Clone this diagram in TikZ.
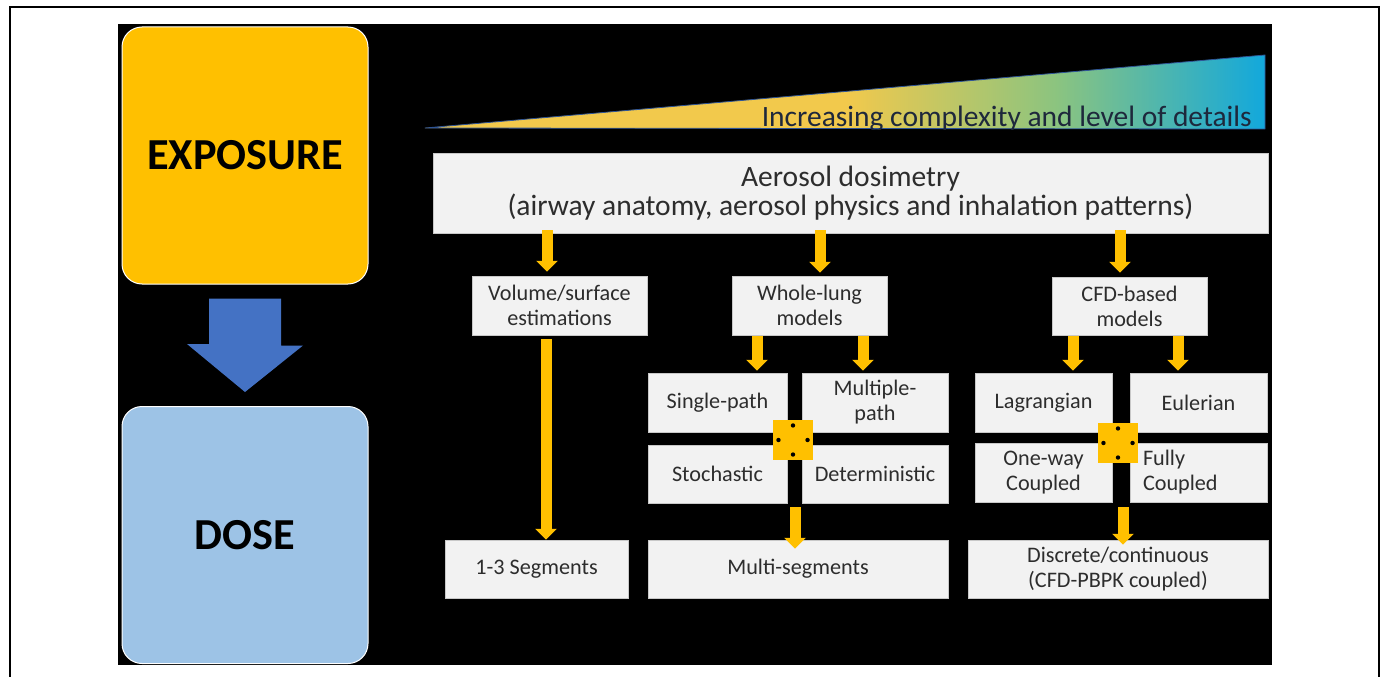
\documentclass[tikz,border=0pt]{standalone}
\usepackage{fontspec}
\setmainfont{Carlito}
\usetikzlibrary{arrows.meta,calc}
\definecolor{gold}{RGB}{255,192,0}
\definecolor{skyb}{RGB}{157,195,230}
\definecolor{blueA}{RGB}{68,114,196}
\definecolor{boxg}{RGB}{242,242,242}
\definecolor{boxline}{RGB}{200,200,200}
\definecolor{txt}{RGB}{45,45,45}
\definecolor{triY}{RGB}{242,201,76}
\definecolor{triG}{RGB}{140,196,127}
\definecolor{triB}{RGB}{18,168,220}
\definecolor{triE}{RGB}{47,85,151}
\definecolor{triT}{RGB}{30,40,60}
\pgfdeclarehorizontalshading{trishade}{100bp}{color(0bp)=(triY); color(25bp)=(triY); color(50bp)=(triY); color(62.5bp)=(triG); color(75bp)=(triB); color(100bp)=(triB)}
\begin{document}
\begin{tikzpicture}[x=1pt,y=-1pt,
  box/.style={fill=boxg, draw=boxline, line width=0.5pt, text=txt,
    font=\fontsize{22.2}{25}\selectfont, align=center, inner sep=0pt},
  yarr/.style={draw=gold, line width=11pt, -{Triangle[length=11pt,width=21pt]}},
  bigbox/.style={rounded corners=20pt, draw=white, line width=1pt,
    minimum width=246pt, minimum height=257pt, inner sep=0pt,
    font=\fontsize{44.3}{50}\selectfont\bfseries, text=black},
  junction/.style={fill=gold, minimum size=40pt, inner sep=0pt}
]
\useasboundingbox (0,0) rectangle (1385,677);
\fill[white] (0,0) rectangle (1385,677);
\draw[black, line width=1.5pt] (10,7) rectangle (1379,690);
\fill[black] (118,24) rectangle (1272,665);

% complexity wedge
\shade[shading=trishade] (425,128) -- (1265,55) -- (1265,129) -- cycle;
\draw[triE, line width=0.8pt, line join=round] (425,128) -- (1265,55) -- (1265,129) -- cycle;
\begin{scope}
\clip (425,40) rectangle (1272,129.5);
\node[anchor=base east, font=\fontsize{29.5}{34}\selectfont, text=triT, inner sep=0pt] (inc) at (1252,126) {Increasing complexity and level of details};
\end{scope}

% exposure / dose
\node[bigbox, fill=gold] (exp) at (245,155.5) {EXPOSURE};
\node[bigbox, fill=skyb] (dose) at (245,535) {DOSE};
\fill[blueA] ($(exp.south)+(-36,14)$) -- ++(72,0) -- ++(0,47) -- ++(22,0)
  -- ($(dose.north)+(0,-14)$) -- ++(-58,-48) -- ++(22,0) -- cycle;

% boxes
\node[box, minimum width=835pt, minimum height=80pt, font=\fontsize{29.5}{29}\selectfont] (aer) at (850.5,193)
  {Aerosol dosimetry\\(airway anatomy, aerosol physics and inhalation patterns)};
\node[box, minimum width=175pt, minimum height=59pt] (vol) at (559.5,305.5) {Volume/surface\\estimations};
\node[box, minimum width=155pt, minimum height=59pt] (whole) at (809.5,305.5) {Whole-lung\\models};
\node[box, minimum width=155pt, minimum height=58pt] (cfd) at (1129.5,306) {CFD-based\\models};

\node[box, minimum width=139pt, minimum height=59pt] (single) at (717.5,402.5) {Single-path};
\node[box, minimum width=146pt, minimum height=59pt] (multiple) at (875,402.5) {Multiple-\\path};
\node[box, minimum width=139pt, minimum height=58pt] (stoch) at (717.5,474) {Stochastic};
\node[box, minimum width=146pt, minimum height=58pt] (determ) at (875,474) {Deterministic};

\node[box, minimum width=137pt, minimum height=59pt] (lag) at (1043.5,402.5) {Lagrangian};
\node[box, minimum width=137pt, minimum height=59pt] (eul) at (1198.5,402.5) {Eulerian};
\node[box, minimum width=137pt, minimum height=59pt] (oneway) at (1043.5,472.5) {One-way\\Coupled};
\node[box, minimum height=59pt, align=left, text width=111pt, inner xsep=13pt] (fully) at (1198.5,472.5) {Fully\\Coupled};

\node[box, minimum width=183pt, minimum height=58pt] (seg) at (536.5,569) {1-3 Segments};
\node[box, minimum width=300pt, minimum height=58pt] (mseg) at (798,569) {Multi-segments};
\node[box, minimum width=300pt, minimum height=58pt] (disc) at (1118,569) {Discrete/continuous\\(CFD-PBPK coupled)};

% junction icons
\node[junction] (j1) at (793,440) {};
\node[junction] (j2) at (1118,443) {};
\foreach \j in {j1,j2}{
  \foreach \p in {north,south,east,west}{
    \fill[black] ($(\j.center)!0.72!(\j.\p)$) circle (2.2pt);
  }
}

% arrows
\draw[yarr, shorten <=-3pt, shorten >=4pt] (547,0 |- aer.south) -- (547,0 |- vol.north);
\draw[yarr, shorten <=-3pt, shorten >=3pt] (820,0 |- aer.south) -- (820,0 |- whole.north);
\draw[yarr, shorten <=-3pt, shorten >=4pt] (1120,0 |- aer.south) -- (1120,0 |- cfd.north);
\draw[yarr, shorten <=4pt] (546,0 |- vol.south) -- (546,0 |- seg.north);
\draw[yarr, shorten <=1pt, shorten >=2pt] (757,0 |- whole.south) -- (757,0 |- single.north);
\draw[yarr, shorten <=1pt, shorten >=2pt] (863,0 |- whole.south) -- (863,0 |- multiple.north);
\draw[yarr, shorten <=1pt, shorten >=2pt] (1073,0 |- cfd.south) -- (1073,0 |- lag.north);
\draw[yarr, shorten <=1pt, shorten >=2pt] (1178,0 |- cfd.south) -- (1178,0 |- eul.north);
\draw[yarr, shorten <=4pt, shorten >=-9pt] (795,0 |- stoch.south) -- (795,0 |- mseg.north);
\draw[yarr, shorten <=5pt, shorten >=-5pt] (1123,0 |- oneway.south) -- (1123,0 |- disc.north);
\end{tikzpicture}
\end{document}
